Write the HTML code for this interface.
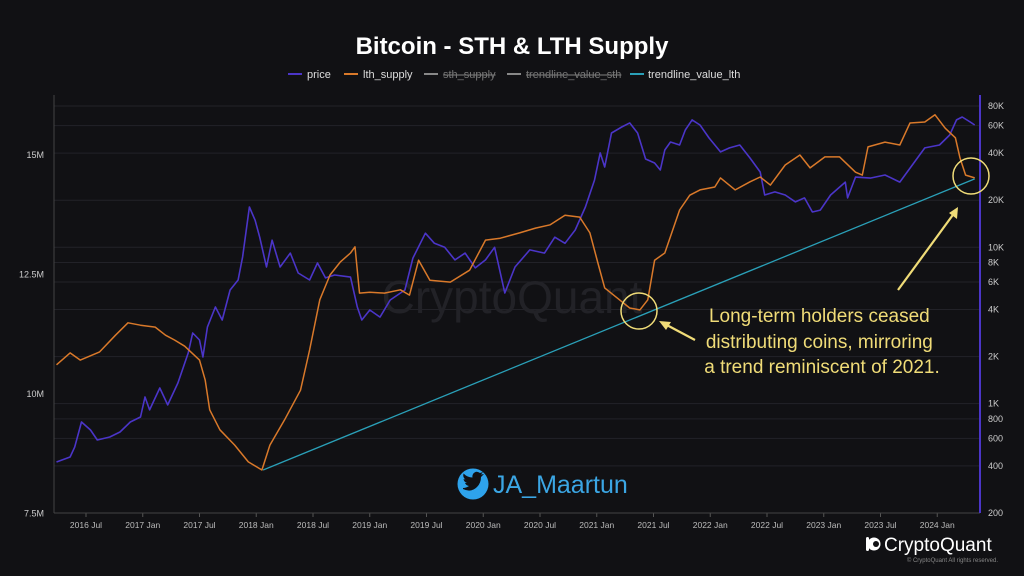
<!DOCTYPE html>
<html><head><meta charset="utf-8">
<style>
html,body{margin:0;padding:0;background:#111114;width:1024px;height:576px;overflow:hidden;font-family:"Liberation Sans",sans-serif;}
svg{display:block}
</style></head>
<body>
<svg id="chart" width="1024" height="576" viewBox="0 0 1024 576" xmlns="http://www.w3.org/2000/svg">
<rect width="1024" height="576" fill="#111114"/>
<text x="512" y="54" text-anchor="middle" fill="#ffffff" font-size="24" font-weight="bold">Bitcoin - STH &amp; LTH Supply</text>
<g id="legend" font-size="11" fill="#dddddd">
 <g><line x1="288" y1="74" x2="302" y2="74" stroke="#4b35c8" stroke-width="2"/><text x="307" y="78">price</text></g>
 <g><line x1="344" y1="74" x2="358" y2="74" stroke="#d9792a" stroke-width="2"/><text x="363" y="78">lth_supply</text></g>
 <g><line x1="424" y1="74" x2="438" y2="74" stroke="#888" stroke-width="2"/><text x="443" y="78" fill="#777" text-decoration="line-through">sth_supply</text></g>
 <g><line x1="507" y1="74" x2="521" y2="74" stroke="#888" stroke-width="2"/><text x="526" y="78" fill="#777" text-decoration="line-through">trendline_value_sth</text></g>
 <g><line x1="630" y1="74" x2="644" y2="74" stroke="#2aa0b8" stroke-width="2"/><text x="648" y="78">trendline_value_lth</text></g>
</g>
<g id="grid"></g>
<text x="512" y="313" text-anchor="middle" fill="#222227" font-size="46">CryptoQuant</text>
<g id="axes"></g>
<g id="series"></g>
<g>
 <circle cx="639" cy="311" r="18" fill="none" stroke="#f0dc78" stroke-width="1.5"/>
 <circle cx="971" cy="176" r="18" fill="none" stroke="#f0dc78" stroke-width="1.5"/>
 <g stroke="#f0dc78" stroke-width="2.2" fill="#f0dc78">
  <line x1="695" y1="340" x2="663" y2="323"/><polygon points="659,321 671,322 666,330" stroke="none"/>
 </g>
 <g stroke="#f0dc78" stroke-width="2.2" fill="#f0dc78">
  <line x1="898" y1="290" x2="955" y2="212"/><polygon points="958,207 949,213 957,219" stroke="none"/>
 </g>
 <text fill="#f0dc78" font-size="19" text-anchor="middle">
  <tspan x="822" y="322">Long-term holders ceased</tspan>
  <tspan x="822" y="348">distributing coins, mirroring</tspan>
  <tspan x="822" y="373">a trend reminiscent of 2021.</tspan>
 </text>
</g>
<g>
 <circle cx="473" cy="484" r="15.5" fill="#2ea3ec"/>
 <path d="M463,489 q8,4 14,-2 q4,-4 4,-10 l3,-3 l-3,0.5 l2,-2.5 l-3,1 q-4,-3 -7,1 q-1,2 -0.5,3.5 q-5,0 -9,-4 q-1,4 2,6 l-2,-0.5 q0.5,3 3.5,4 l-2,0 q1,2.5 4,3 q-3,2 -6,2z" fill="#111114"/>
 <text x="493" y="493" fill="#3ba6e4" font-size="25">JA_Maartun</text>
</g>
<g>
 <circle cx="874" cy="544" r="6.5" fill="#fff"/><circle cx="876" cy="544" r="3" fill="#111114"/>
 <rect x="866" y="537" width="3" height="14" rx="1.5" fill="#fff"/>
 <text x="884" y="551" fill="#ffffff" font-size="19">CryptoQuant</text>
 <text x="998" y="562" fill="#888" font-size="6" text-anchor="end">© CryptoQuant All rights reserved.</text>
</g>
</svg>
<script>
const priceDates=[2016.24,2016.36,2016.40,2016.46,2016.54,2016.60,2016.71,2016.80,2016.89,2016.98,2017.02,2017.06,2017.15,2017.22,2017.31,2017.40,2017.44,2017.50,2017.53,2017.57,2017.64,2017.70,2017.77,2017.84,2017.88,2017.94,2017.99,2018.03,2018.09,2018.14,2018.21,2018.30,2018.37,2018.47,2018.54,2018.61,2018.69,2018.83,2018.89,2018.93,2019.00,2019.09,2019.18,2019.31,2019.38,2019.49,2019.57,2019.66,2019.75,2019.84,2019.93,2020.02,2020.10,2020.19,2020.28,2020.41,2020.54,2020.63,2020.72,2020.81,2020.90,2020.98,2021.03,2021.07,2021.13,2021.22,2021.29,2021.36,2021.43,2021.51,2021.56,2021.60,2021.65,2021.73,2021.78,2021.84,2021.91,2021.99,2022.09,2022.17,2022.26,2022.35,2022.44,2022.48,2022.57,2022.66,2022.75,2022.83,2022.90,2022.97,2023.06,2023.19,2023.21,2023.28,2023.41,2023.54,2023.67,2023.80,2023.89,2024.02,2024.11,2024.17,2024.22,2024.29,2024.33];
const priceValues=[424,456,528,764,679,586,612,659,764,822,1104,912,1260,982,1356,2108,2830,2553,1988,3090,4150,3430,5330,6180,8670,18100,14900,11600,7480,11100,7480,9180,6850,6180,7930,6370,6650,6450,4150,3430,3970,3580,4600,5330,8530,12300,10600,10000,8300,9180,7380,8300,10000,5100,7480,9620,9180,11600,10600,12900,18100,26900,40100,32600,53800,58800,62400,53800,36700,34600,31200,41900,47100,45100,56200,65200,60500,50000,40700,43200,45100,37200,30300,21600,22600,21600,19500,20700,16800,17300,21600,26100,20700,28100,27700,29000,26100,35100,43200,45100,52200,65200,68100,63200,60500];
const lthDates=[2016.24,2016.36,2016.45,2016.62,2016.76,2016.87,2016.98,2017.11,2017.20,2017.28,2017.37,2017.50,2017.55,2017.59,2017.68,2017.81,2017.93,2018.05,2018.12,2018.25,2018.39,2018.47,2018.56,2018.65,2018.74,2018.83,2018.87,2018.91,2019.00,2019.13,2019.27,2019.35,2019.43,2019.53,2019.71,2019.88,2020.02,2020.15,2020.32,2020.46,2020.59,2020.72,2020.85,2020.94,2021.01,2021.07,2021.20,2021.29,2021.38,2021.45,2021.51,2021.60,2021.73,2021.82,2021.91,2022.04,2022.09,2022.22,2022.35,2022.44,2022.53,2022.66,2022.79,2022.88,2023.01,2023.14,2023.28,2023.34,2023.39,2023.54,2023.67,2023.76,2023.89,2023.98,2024.07,2024.16,2024.20,2024.25,2024.33];
const lthValues=[10.61,10.86,10.71,10.88,11.23,11.49,11.44,11.40,11.23,11.13,11.00,10.71,10.29,9.67,9.25,8.93,8.58,8.41,8.93,9.46,10.08,10.92,11.97,12.49,12.76,12.95,13.08,12.11,12.13,12.11,12.18,12.07,12.80,12.38,12.34,12.59,13.22,13.26,13.37,13.47,13.54,13.74,13.70,13.37,12.74,12.22,11.97,11.80,11.76,11.97,12.80,12.95,13.85,14.16,14.27,14.33,14.52,14.27,14.44,14.54,14.37,14.79,15.00,14.73,14.96,14.96,14.64,14.58,15.17,15.27,15.21,15.67,15.69,15.84,15.56,15.36,14.94,14.58,14.52];
const trendDates=[2018.06,2024.33];
const trendValues=[8.41,14.50];
const leftTicks=[7.5,10,12.5,15];
const leftTickLabels=["7.5M","10M","12.5M","15M"];
const rightTicks=[200,400,600,800,1000,2000,4000,6000,8000,10000,20000,40000,60000,80000];
const rightTickLabels=["200","400","600","800","1K","2K","4K","6K","8K","10K","20K","40K","60K","80K"];
const xTickDates=[2016.5,2017,2017.5,2018,2018.5,2019,2019.5,2020,2020.5,2021,2021.5,2022,2022.5,2023,2023.5,2024];
const xTickLabels=["2016 Jul","2017 Jan","2017 Jul","2018 Jan","2018 Jul","2019 Jan","2019 Jul","2020 Jan","2020 Jul","2021 Jan","2021 Jul","2022 Jan","2022 Jul","2023 Jan","2023 Jul","2024 Jan"];

const NS="http://www.w3.org/2000/svg";
const X0=54,X1=980,Y0=95,Y1=513;
const xs=t=>86+(t-2016.5)*113.5;
const yL=v=>155+(15-v)*47.8;
const yR=v=>513-Math.log10(v/200)*156.4;
function mk(tag,attrs,parent){const e=document.createElementNS(NS,tag);for(const k in attrs)e.setAttribute(k,attrs[k]);parent.appendChild(e);return e;}
const grid=document.getElementById('grid'),axes=document.getElementById('axes'),series=document.getElementById('series');
rightTicks.forEach((v,i)=>{
  const y=yR(v);
  if(i>0){const l=mk('line',{x1:X0,x2:X1,y1:y,y2:y,stroke:'#222228','stroke-width':1},grid);
  
  }
  const t=mk('text',{x:988,y:y+3,fill:'#cccccc','font-size':9},axes);t.textContent=rightTickLabels[i];
  
  
});
leftTicks.forEach((v,i)=>{
  const y=yL(v);
  const t=mk('text',{x:44,y:y+3,fill:'#cccccc','font-size':9,'text-anchor':'end'},axes);t.textContent=leftTickLabels[i];
  
  
});
xTickDates.forEach((d,i)=>{
  const x=xs(d);
  mk('line',{x1:x,x2:x,y1:Y1,y2:Y1+4,stroke:'#555'},axes);
  const t=mk('text',{x:x,y:528,fill:'#bbbbbb','font-size':8.5,'text-anchor':'middle'},axes);t.textContent=xTickLabels[i];
  
  
});
const la=mk('line',{x1:X0,x2:X0,y1:Y0,y2:Y1,stroke:'#444',"stroke-width":1},axes);


const xa=mk('line',{x1:X0,x2:X1,y1:Y1,y2:Y1,stroke:'#444',"stroke-width":1},axes);


const ra=mk('line',{x1:X1,x2:X1,y1:Y0,y2:Y1,stroke:'#4b35c8',"stroke-width":2},axes);


function path(dates,vals,fy){return dates.map((d,i)=>(i?'L':'M')+xs(d).toFixed(1)+','+fy(vals[i]).toFixed(1)).join(' ');}
const tr=mk('path',{d:path(trendDates,trendValues,yL),stroke:'#2aa0b8','stroke-width':1.3,fill:'none'},series);


const pl=mk('path',{d:path(priceDates,priceValues,yR),stroke:'#4b35c8','stroke-width':1.6,fill:'none','stroke-linejoin':'round'},series);


const ll=mk('path',{d:path(lthDates,lthValues,yL),stroke:'#d9792a','stroke-width':1.5,fill:'none','stroke-linejoin':'round'},series);


</script>
</body></html>
